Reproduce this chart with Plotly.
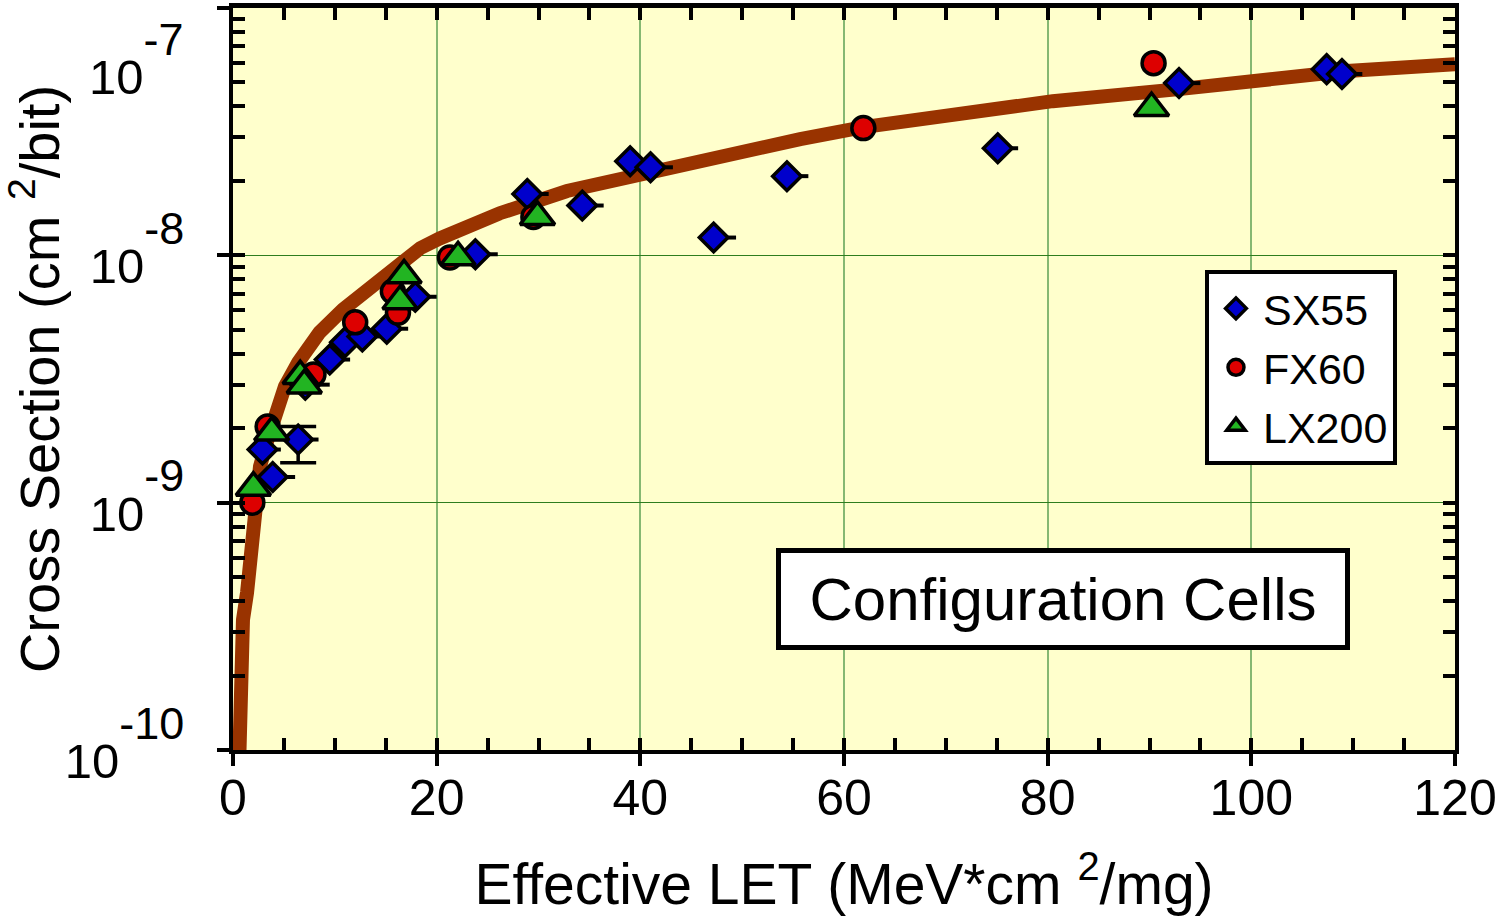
import plotly.graph_objects as go

FONT = "Liberation Sans, Arial, sans-serif"

# ---- fitted curve ----
fit_let = [0.6, 0.66, 0.93, 0.98, 1.38, 1.75, 1.87, 2.06, 2.65, 3.4, 4.5, 5.1, 6.4, 8.5,
           10.8, 13.5, 16.4, 18.4, 20.3, 26.2, 32.8, 40.0, 45.9, 52.5, 55.7, 61.9, 80.5,
           92.9, 101.2, 109.4, 120.0]
fit_xs = [8.7e-11, 1.24e-10, 1.49e-10, 3.36e-10, 4.33e-10, 6.64e-10, 8.0e-10, 1.03e-9,
          1.40e-9, 1.80e-9, 2.38e-9, 2.95e-9, 3.69e-9, 4.88e-9, 6.04e-9, 7.48e-9, 9.46e-9,
          1.07e-8, 1.17e-8, 1.48e-8, 1.82e-8, 2.13e-8, 2.38e-8, 2.74e-8, 2.95e-8, 3.30e-8,
          4.20e-8, 4.70e-8, 5.16e-8, 5.56e-8, 5.93e-8]

# ---- SX55 (first point carries the vertical error bar) ----
sx55_let = [6.4, 2.9, 3.9, 7.1, 9.5, 11.0, 12.7, 15.1, 17.9, 23.8, 28.9, 34.3, 39.0, 41.0,
            47.2, 54.4, 75.1, 92.9, 107.4, 108.9]
sx55_xs = [1.80e-9, 1.64e-9, 1.27e-9, 3.0e-9, 3.79e-9, 4.45e-9, 4.70e-9, 5.05e-9, 6.8e-9,
           1.01e-8, 1.77e-8, 1.59e-8, 2.40e-8, 2.27e-8, 1.18e-8, 2.09e-8, 2.71e-8, 4.97e-8,
           5.66e-8, 5.41e-8]
sx55_let_err = [2.0, 1.8, 2.2, 2.4, 2.0, 2.0, 2.0, 2.1, 2.1, 2.2, 2.1, 2.1, 2.2, 2.2, 2.2,
                2.1, 2.0, 2.1, 2.0, 2.0]
sx55_xs_err_hi = [0.23e-9]
sx55_xs_err_lo = [0.35e-9]

# ---- FX60 ----
fx60_let = [1.9, 3.4, 7.9, 12.0, 15.7, 16.2, 21.3, 29.5, 61.9, 90.4]
fx60_xs = [1.0e-9, 2.03e-9, 3.30e-9, 5.36e-9, 7.14e-9, 5.87e-9, 9.8e-9, 1.43e-8, 3.27e-8, 5.98e-8]

# ---- LX200 ----
lx200_let = [2.0, 3.8, 6.6, 7.0, 16.4, 16.8, 22.1, 29.9, 90.2]
lx200_xs = [1.15e-9, 1.92e-9, 3.25e-9, 2.98e-9, 6.52e-9, 8.3e-9, 9.82e-9, 1.43e-8, 3.94e-8]

x_major = [0, 20, 40, 60, 80, 100, 120]
x_minor = list(range(0, 121, 5))
y_major = [1e-10, 1e-9, 1e-8, 1e-7]
y_minor = [m * 10.0 ** e for e in (-10, -9, -8) for m in range(1, 10)] + [1e-7]


def sup_label(exp):
    return ("10<span style='font-size:94px'><sup><span style='font-size:45px'>"
            + exp + "</span></sup></span>")


y_ticktext = [sup_label("-10"), sup_label("-9"), sup_label("-8"), ""]

fig = go.Figure()

fig.add_trace(go.Scatter(x=fit_let, y=fit_xs, mode="lines",
                         line=dict(color="#993300", width=14),
                         showlegend=False, hoverinfo="skip"))

fig.add_trace(go.Scatter(
    x=sx55_let, y=sx55_xs, mode="markers", name="SX55",
    marker=dict(symbol="diamond", size=22, color="#0000cc",
                line=dict(color="black", width=3.5)),
    error_x=dict(type="data", symmetric=False, array=sx55_let_err, arrayminus=[0],
                 color="black", thickness=4, width=0),
    error_y=dict(type="data", symmetric=False, array=sx55_xs_err_hi,
                 arrayminus=sx55_xs_err_lo, color="black", thickness=3.5, width=18)))

fig.add_trace(go.Scatter(
    x=fx60_let, y=fx60_xs, mode="markers", name="FX60",
    marker=dict(symbol="circle", size=23, color="#dd0000",
                line=dict(color="black", width=3.5))))

fig.add_trace(go.Scatter(
    x=lx200_let, y=lx200_xs, mode="markers", name="LX200",
    marker=dict(symbol="triangle-up", size=30, color="#22b422",
                line=dict(color="black", width=3.5))))

# empty helper traces so the overlay tick axes are drawn
for xa, ya in (("x2", "y"), ("x3", "y"), ("x", "y2"), ("x", "y3")):
    fig.add_trace(go.Scatter(x=[], y=[], xaxis=xa, yaxis=ya, showlegend=False,
                             hoverinfo="skip"))

minor_x = dict(range=[0, 120], tickvals=x_minor, ticks="inside", ticklen=12,
               tickwidth=3.5, tickcolor="black", showticklabels=False,
               showgrid=False, zeroline=False, automargin=False)
minor_y = dict(type="log", range=[-10, -7], tickvals=y_minor, ticks="inside",
               ticklen=12, tickwidth=3.5, tickcolor="black", showticklabels=False,
               showgrid=False, zeroline=False, automargin=False)

fig.update_layout(
    width=1506, height=916,
    margin=dict(l=233, r=51, t=8, b=166),
    paper_bgcolor="white", plot_bgcolor="#ffffcc",
    font=dict(family=FONT, color="black", size=49),
    showlegend=True,
    xaxis=dict(range=[0, 120], tickvals=x_major, ticks="outside", ticklen=12,
               tickwidth=4, tickcolor="black", showgrid=True, gridcolor="#86b872",
               gridwidth=1.5, showline=True, linecolor="black", linewidth=4,
               zeroline=False, tickfont=dict(size=50), ticklabelstandoff=-11,
               automargin=False,
               title=dict(text="Effective LET (MeV*cm <sup>2</sup>/mg)",
                          font=dict(size=57), standoff=42)),
    xaxis2=dict(overlaying="x", side="bottom", anchor="y", showline=False, **minor_x),
    xaxis3=dict(overlaying="x", side="top", anchor="y", showline=True,
                linecolor="black", linewidth=5, **minor_x),
    yaxis=dict(type="log", range=[-10, -7], tickvals=y_major, ticktext=y_ticktext,
               ticks="outside", ticklen=12, tickwidth=4, tickcolor="black",
               showgrid=True, gridcolor="#2e7d1e", gridwidth=1.3,
               showline=True, linecolor="black", linewidth=4, zeroline=False,
               tickfont=dict(size=49), ticklabelstandoff=23, ticklabelshift=11,
               automargin=False,
               title=dict(text="Cross Section (cm <sup>2</sup>/bit)",
                          font=dict(size=56), standoff=0)),
    yaxis2=dict(overlaying="y", side="left", anchor="x", showline=False, **minor_y),
    yaxis3=dict(overlaying="y", side="right", anchor="x", showline=True,
                linecolor="black", linewidth=4, **minor_y),
    legend=dict(x=0.7954, y=0.647, xanchor="left", yanchor="top",
                bgcolor="white", bordercolor="black", borderwidth=4,
                itemwidth=44,
                font=dict(size=43, family=FONT)),
    annotations=[
        dict(text=sup_label("-7"), xref="paper", yref="paper", x=-0.0393, y=0.869,
             xanchor="right", yanchor="bottom", showarrow=False,
             font=dict(size=49, family=FONT), borderpad=0),
        dict(text="Configuration Cells", xref="paper", yref="paper", x=0.679, y=0.2035,
             xanchor="center", yanchor="middle", showarrow=False,
             font=dict(size=60, family=FONT), bgcolor="white", bordercolor="black",
             borderwidth=5, borderpad=2, width=560, height=88),
    ],
)

fig.write_html("out.html")
